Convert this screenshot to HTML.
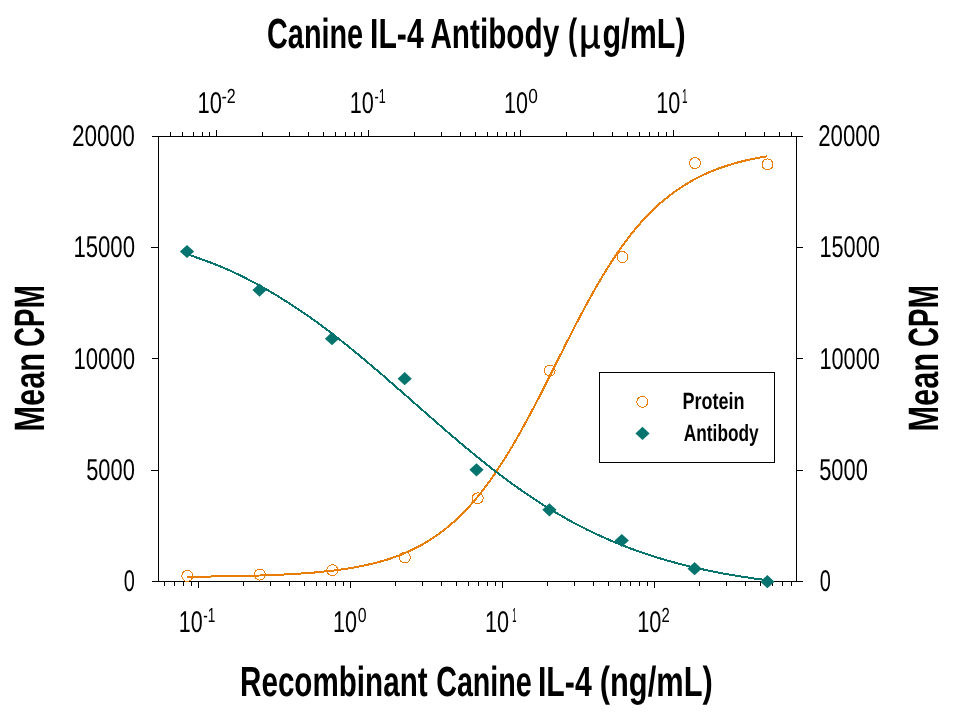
<!DOCTYPE html>
<html><head><meta charset="utf-8"><title>Chart</title>
<style>html,body{margin:0;padding:0;background:#fff;}body{width:954px;height:713px;overflow:hidden;font-family:"Liberation Sans",sans-serif;}svg{display:block;will-change:transform;}text{font-family:"Liberation Sans",sans-serif;fill:#000;text-rendering:geometricPrecision;}</style>
</head><body>
<svg width="954" height="713" viewBox="0 0 954 713">
<rect x="0" y="0" width="954" height="713" fill="#fff"/>
<path d="M152,136.5H803 M152,581.5H803 M158.5,136.5V581.5 M796.5,136.5V581.5 M151,470.5H158.5 M796.5,470.5H803 M152,358.5H158.5 M796.5,358.5H803 M151,247.5H158.5 M796.5,247.5H803 M164.5,581.5V586 M174.5,581.5V586 M183.5,581.5V586 M191.5,581.5V586 M198.5,581.5V588 M243.5,581.5V586 M270.5,581.5V586 M289.5,581.5V586 M304.5,581.5V586 M316.5,581.5V586 M326.5,581.5V586 M335.5,581.5V586 M343.5,581.5V586 M350.5,581.5V588 M395.5,581.5V586 M422.5,581.5V586 M441.5,581.5V586 M456.5,581.5V586 M468.5,581.5V586 M478.5,581.5V586 M487.5,581.5V586 M495.5,581.5V586 M502.5,581.5V588 M547.5,581.5V586 M574.5,581.5V586 M593.5,581.5V586 M608.5,581.5V586 M620.5,581.5V586 M630.5,581.5V586 M639.5,581.5V586 M647.5,581.5V586 M654.5,581.5V588 M699.5,581.5V586 M726.5,581.5V586 M745.5,581.5V586 M760.5,581.5V586 M772.5,581.5V586 M782.5,581.5V586 M791.5,581.5V586 M170.5,136.5V132 M182.5,136.5V132 M193.5,136.5V132 M202.5,136.5V132 M209.5,136.5V132 M216.5,136.5V130 M262.5,136.5V132 M289.5,136.5V132 M308.5,136.5V132 M323.5,136.5V132 M335.5,136.5V132 M345.5,136.5V132 M354.5,136.5V132 M361.5,136.5V132 M368.5,136.5V130 M414.5,136.5V132 M441.5,136.5V132 M460.5,136.5V132 M475.5,136.5V132 M487.5,136.5V132 M497.5,136.5V132 M506.5,136.5V132 M514.5,136.5V132 M520.5,136.5V130 M566.5,136.5V132 M593.5,136.5V132 M612.5,136.5V132 M627.5,136.5V132 M639.5,136.5V132 M649.5,136.5V132 M658.5,136.5V132 M666.5,136.5V132 M673.5,136.5V130 M718.5,136.5V132 M745.5,136.5V132 M764.5,136.5V132 M779.5,136.5V132 M791.5,136.5V132" stroke="#000" stroke-width="1" fill="none" shape-rendering="crispEdges"/>
<path d="M186.8,576.8 L191.7,576.7 L196.6,576.7 L201.4,576.6 L206.3,576.6 L211.2,576.5 L216.1,576.4 L220.9,576.4 L225.8,576.3 L230.7,576.2 L235.6,576.1 L240.5,576.0 L245.3,575.9 L250.2,575.8 L255.1,575.6 L260.0,575.5 L264.8,575.3 L269.7,575.1 L274.6,574.9 L279.5,574.7 L284.3,574.5 L289.2,574.2 L294.1,574.0 L299.0,573.7 L303.9,573.3 L308.7,573.0 L313.6,572.6 L318.5,572.1 L323.4,571.6 L328.2,571.1 L333.1,570.6 L338.0,569.9 L342.9,569.3 L347.8,568.5 L352.6,567.7 L357.5,566.8 L362.4,565.9 L367.3,564.8 L372.1,563.7 L377.0,562.5 L381.9,561.1 L386.8,559.7 L391.6,558.1 L396.5,556.4 L401.4,554.5 L406.3,552.4 L411.2,550.2 L416.0,547.9 L420.9,545.3 L425.8,542.5 L430.7,539.5 L435.5,536.3 L440.4,532.8 L445.3,529.0 L450.2,525.0 L455.1,520.7 L459.9,516.1 L464.8,511.2 L469.7,506.0 L474.6,500.4 L479.4,494.6 L484.3,488.3 L489.2,481.8 L494.1,474.9 L498.9,467.6 L503.8,460.1 L508.7,452.2 L513.6,444.0 L518.5,435.5 L523.3,426.8 L528.2,417.8 L533.1,408.6 L538.0,399.3 L542.8,389.8 L547.7,380.1 L552.6,370.4 L557.5,360.7 L562.4,351.0 L567.2,341.3 L572.1,331.8 L577.0,322.3 L581.9,313.0 L586.7,303.9 L591.6,295.1 L596.5,286.5 L601.4,278.1 L606.2,270.1 L611.1,262.4 L616.0,255.0 L620.9,247.9 L625.8,241.2 L630.6,234.8 L635.5,228.8 L640.4,223.1 L645.3,217.8 L650.1,212.7 L655.0,208.0 L659.9,203.5 L664.8,199.4 L669.7,195.5 L674.5,191.8 L679.4,188.5 L684.3,185.3 L689.2,182.4 L694.0,179.6 L698.9,177.1 L703.8,174.7 L708.7,172.5 L713.5,170.5 L718.4,168.6 L723.3,166.9 L728.2,165.3 L733.1,163.8 L737.9,162.4 L742.8,161.2 L747.7,160.0 L752.6,159.0 L757.4,158.0 L762.3,157.1 L767.2,156.3" stroke="#e87e08" stroke-width="2" fill="none" stroke-linejoin="round" shape-rendering="crispEdges"/>
<path d="M186.8,254.1 L191.7,255.8 L196.6,257.5 L201.4,259.2 L206.3,261.0 L211.2,262.8 L216.1,264.7 L220.9,266.7 L225.8,268.8 L230.7,270.9 L235.6,273.2 L240.5,275.5 L245.3,278.0 L250.2,280.5 L255.1,283.1 L260.0,285.7 L264.8,288.5 L269.7,291.3 L274.6,294.2 L279.5,297.1 L284.3,300.2 L289.2,303.3 L294.1,306.5 L299.0,309.7 L303.9,313.1 L308.7,316.4 L313.6,319.9 L318.5,323.4 L323.4,327.0 L328.2,330.7 L333.1,334.4 L338.0,338.2 L342.9,342.1 L347.8,346.0 L352.6,349.9 L357.5,353.9 L362.4,358.0 L367.3,362.1 L372.1,366.2 L377.0,370.3 L381.9,374.5 L386.8,378.8 L391.6,383.0 L396.5,387.3 L401.4,391.6 L406.3,395.8 L411.2,400.1 L416.0,404.4 L420.9,408.7 L425.8,413.0 L430.7,417.3 L435.5,421.6 L440.4,425.8 L445.3,430.1 L450.2,434.3 L455.1,438.4 L459.9,442.6 L464.8,446.7 L469.7,450.7 L474.6,454.7 L479.4,458.7 L484.3,462.6 L489.2,466.5 L494.1,470.3 L498.9,474.0 L503.8,477.7 L508.7,481.3 L513.6,484.8 L518.5,488.3 L523.3,491.7 L528.2,495.1 L533.1,498.3 L538.0,501.5 L542.8,504.7 L547.7,507.7 L552.6,510.7 L557.5,513.6 L562.4,516.4 L567.2,519.2 L572.1,521.9 L577.0,524.5 L581.9,527.0 L586.7,529.5 L591.6,531.8 L596.5,534.2 L601.4,536.4 L606.2,538.6 L611.1,540.7 L616.0,542.8 L620.9,544.7 L625.8,546.6 L630.6,548.5 L635.5,550.3 L640.4,552.0 L645.3,553.7 L650.1,555.3 L655.0,556.8 L659.9,558.3 L664.8,559.8 L669.7,561.2 L674.5,562.5 L679.4,563.8 L684.3,565.1 L689.2,566.3 L694.0,567.4 L698.9,568.5 L703.8,569.6 L708.7,570.6 L713.5,571.6 L718.4,572.6 L723.3,573.5 L728.2,574.4 L733.1,575.2 L737.9,576.0 L742.8,576.8 L747.7,577.5 L752.6,578.3 L757.4,579.0 L762.3,579.6 L767.2,580.2" stroke="#05746e" stroke-width="2" fill="none" stroke-linejoin="round" shape-rendering="crispEdges"/>
<circle cx="187.3" cy="575.9" r="5.5" fill="none" stroke="#e87e08" stroke-width="1" shape-rendering="crispEdges"/>
<circle cx="259.8" cy="574.6" r="5.5" fill="none" stroke="#e87e08" stroke-width="1" shape-rendering="crispEdges"/>
<circle cx="332.3" cy="570.2" r="5.5" fill="none" stroke="#e87e08" stroke-width="1" shape-rendering="crispEdges"/>
<circle cx="404.8" cy="557.5" r="5.5" fill="none" stroke="#e87e08" stroke-width="1" shape-rendering="crispEdges"/>
<circle cx="477.7" cy="498.3" r="5.5" fill="none" stroke="#e87e08" stroke-width="1" shape-rendering="crispEdges"/>
<circle cx="549.7" cy="370.5" r="5.5" fill="none" stroke="#e87e08" stroke-width="1" shape-rendering="crispEdges"/>
<circle cx="622.5" cy="257.1" r="5.5" fill="none" stroke="#e87e08" stroke-width="1" shape-rendering="crispEdges"/>
<circle cx="695.0" cy="163.1" r="5.5" fill="none" stroke="#e87e08" stroke-width="1" shape-rendering="crispEdges"/>
<circle cx="767.5" cy="164.4" r="5.5" fill="none" stroke="#e87e08" stroke-width="1" shape-rendering="crispEdges"/>
<path d="M179.9,251.5L187.0,244.9L194.1,251.5L187.0,258.1Z" fill="#05746e"/>
<path d="M252.4,290.1L259.5,283.5L266.6,290.1L259.5,296.7Z" fill="#05746e"/>
<path d="M324.9,338.7L332.0,332.1L339.1,338.7L332.0,345.3Z" fill="#05746e"/>
<path d="M397.6,378.7L404.7,372.1L411.8,378.7L404.7,385.3Z" fill="#05746e"/>
<path d="M469.4,469.8L476.5,463.2L483.6,469.8L476.5,476.4Z" fill="#05746e"/>
<path d="M542.3,509.8L549.4,503.2L556.5,509.8L549.4,516.4Z" fill="#05746e"/>
<path d="M614.7,540.5L621.8,533.9L628.9,540.5L621.8,547.1Z" fill="#05746e"/>
<path d="M687.5,568.7L694.6,562.1L701.7,568.7L694.6,575.3Z" fill="#05746e"/>
<path d="M760.3,581.7L767.4,575.1L774.5,581.7L767.4,588.3Z" fill="#05746e"/>
<rect x="599.5" y="372.5" width="175" height="90" fill="#fff" stroke="#000" stroke-width="1" shape-rendering="crispEdges"/>
<circle cx="642.3" cy="401.8" r="5.5" fill="none" stroke="#e87e08" stroke-width="1" shape-rendering="crispEdges"/>
<path d="M635.4,433.4L642.5,426.8L649.6,433.4L642.5,440.0Z" fill="#05746e"/>
<text transform="translate(682.43,408.70) scale(0.7662,1)" font-size="23.5" font-weight="bold">Protein</text>
<text transform="translate(683.86,441.00) scale(0.7345,1)" font-size="23.5" font-weight="bold">Antibody</text>
<text transform="translate(71.92,145.50) scale(0.7540,1)" font-size="30">20000</text>
<text transform="translate(73.41,256.60) scale(0.7382,1)" font-size="30">15000</text>
<text transform="translate(73.41,368.60) scale(0.7382,1)" font-size="30">10000</text>
<text transform="translate(86.21,479.60) scale(0.7287,1)" font-size="30">5000</text>
<text transform="translate(123.74,590.60) scale(0.6647,1)" font-size="30">0</text>
<text transform="translate(818.15,145.50) scale(0.7414,1)" font-size="30">20000</text>
<text transform="translate(819.41,256.60) scale(0.7253,1)" font-size="30">15000</text>
<text transform="translate(819.41,368.60) scale(0.7253,1)" font-size="30">10000</text>
<text transform="translate(819.14,479.60) scale(0.7297,1)" font-size="30">5000</text>
<text transform="translate(819.74,590.60) scale(0.6647,1)" font-size="30">0</text>
<text transform="translate(197.41,112.50) scale(0.7323,1)" font-size="30">10</text>
<text transform="translate(221.54,103.00) scale(0.7898,1)" font-size="20.3">-2</text>
<text transform="translate(349.72,112.50) scale(0.7223,1)" font-size="30">10</text>
<text transform="translate(374.46,103.00) scale(0.6187,1)" font-size="20.3">-1</text>
<text transform="translate(503.95,112.50) scale(0.7167,1)" font-size="30">10</text>
<text transform="translate(528.30,103.00) scale(0.8558,1)" font-size="20.3">0</text>
<text transform="translate(656.22,112.50) scale(0.7208,1)" font-size="30">10</text>
<text transform="translate(681.96,103.00) scale(0.4913,1)" font-size="20.3">1</text>
<text transform="translate(178.82,631.60) scale(0.7154,1)" font-size="30">10</text>
<text transform="translate(203.33,622.10) scale(0.6720,1)" font-size="20.3">-1</text>
<text transform="translate(333.03,631.60) scale(0.7207,1)" font-size="30">10</text>
<text transform="translate(357.83,622.10) scale(0.7822,1)" font-size="20.3">0</text>
<text transform="translate(485.03,631.60) scale(0.7207,1)" font-size="30">10</text>
<text transform="translate(512.20,622.10) scale(0.3728,1)" font-size="20.3">1</text>
<text transform="translate(637.22,631.60) scale(0.7250,1)" font-size="30">10</text>
<text transform="translate(661.53,622.10) scale(0.7302,1)" font-size="20.3">2</text>
<text transform="translate(267.06,47.90) scale(0.6845,1)" font-size="42.1" font-weight="bold">Canine</text>
<text transform="translate(370.07,47.90) scale(0.7159,1)" font-size="42.1" font-weight="bold">IL-4</text>
<text transform="translate(430.39,47.90) scale(0.7063,1)" font-size="42.1" font-weight="bold">Antibody</text>
<text transform="translate(567.97,47.90) scale(0.6566,1)" font-size="42.1" font-weight="bold">(</text>
<text transform="translate(602.62,47.90) scale(0.7241,1)" font-size="42.1" font-weight="bold">g/mL)</text>
<text transform="translate(579.37,47.90) scale(0.8821,1)" font-size="42.1" stroke="#000" stroke-width="0.5">&#181;</text>
<text transform="translate(240.06,695.90) scale(0.7033,1)" font-size="42.1" font-weight="bold">Recombinant</text>
<text transform="translate(436.17,695.90) scale(0.6815,1)" font-size="42.1" font-weight="bold">Canine</text>
<text transform="translate(537.95,695.90) scale(0.7182,1)" font-size="42.1" font-weight="bold">IL-4</text>
<text transform="translate(599.75,695.90) scale(0.7325,1)" font-size="42.1" font-weight="bold">(ng/mL)</text>
<text transform="translate(43.90,431.57) rotate(-90) scale(0.7235,1)" font-size="42.5" font-weight="bold">Mean</text>
<text transform="translate(43.90,346.96) rotate(-90) scale(0.6541,1)" font-size="42.5" font-weight="bold">CPM</text>
<text transform="translate(938.30,431.57) rotate(-90) scale(0.7235,1)" font-size="42.5" font-weight="bold">Mean</text>
<text transform="translate(938.30,346.96) rotate(-90) scale(0.6541,1)" font-size="42.5" font-weight="bold">CPM</text>
</svg></body></html>
